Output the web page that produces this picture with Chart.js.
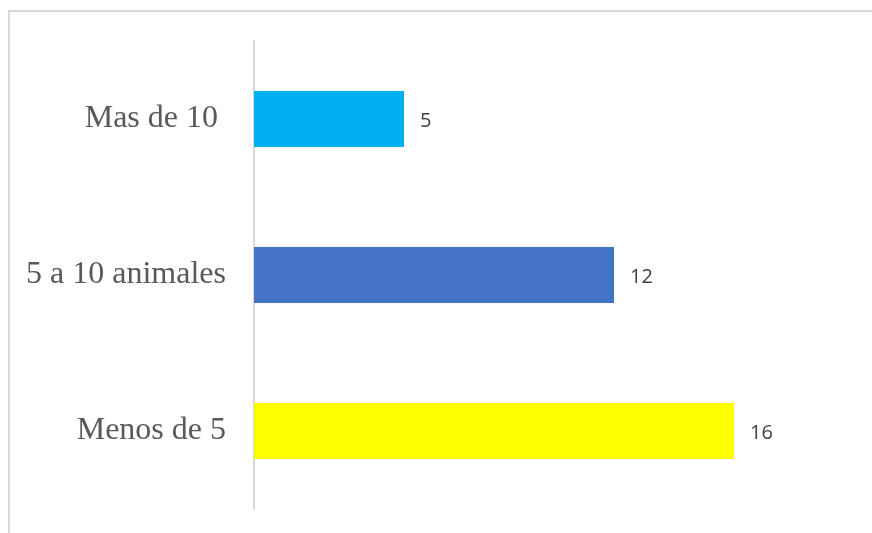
<!DOCTYPE html>
<html>
<head>
<meta charset="utf-8">
<script src="https://cdn.jsdelivr.net/npm/chart.js@4"></script>
<style>
  body { margin: 0; background: #fff; }
  .frame { position: absolute; left: 8px; top: 10px; width: 900px; height: 600px;
           border: 2px solid #d9d9d9; box-sizing: border-box; }
  .wrap { position: absolute; left: 0; top: 0; width: 872px; height: 533px; }
</style>
</head>
<body>
<div class="frame"></div>
<div class="wrap"><canvas id="myChart" width="872" height="533"></canvas></div>
<script>
const categories = ["Mas de 10 ", "5 a 10 animales", "Menos de 5"]
const values = [5, 12, 16]
const barColors = ["#00b0f0", "#4472c4", "#ffff00"]

// draw the numbers next to each bar
const valueLabels = {
  id: 'valueLabels',
  afterDatasetsDraw(chart) {
    const ctx = chart.ctx
    const meta = chart.getDatasetMeta(0)
    ctx.save()
    ctx.font = '20px "Open Sans"'
    ctx.fillStyle = '#404040'
    ctx.textAlign = 'left'
    ctx.textBaseline = 'middle'
    meta.data.forEach((bar, i) => {
      ctx.fillText(values[i], bar.x + 16, bar.y + 2)
    })
    ctx.restore()
  }
}

const ctx = document.getElementById('myChart')
const myChart = new Chart(ctx, {
  type: 'bar',
  data: {
    labels: categories,
    datasets: [{
      data: values,
      backgroundColor: barColors,
      barPercentage: 0.72,
      categoryPercentage: 0.5
    }]
  },
  options: {
    indexAxis: 'y',
    responsive: false,
    animation: false,
    layout: { padding: { top: 41, bottom: 24, left: 0, right: 18 } },
    plugins: { legend: { display: false }, tooltip: { enabled: false } },
    scales: {
      x: {
        display: false,
        min: 0,
        max: 20
      },
      y: {
        grid: { color: 'transparent', drawTicks: false },
        border: { color: '#d9d9d9', width: 2 },
        ticks: {
          color: '#595959',
          padding: 28,
          font: { family: '"Liberation Serif"', size: 32 }
        },
        afterFit(scale) {
          scale.width = 254
          scale.paddingTop = 0
          scale.paddingBottom = 0
        }
      }
    }
  },
  plugins: [valueLabels]
})
</script>
</body>
</html>
